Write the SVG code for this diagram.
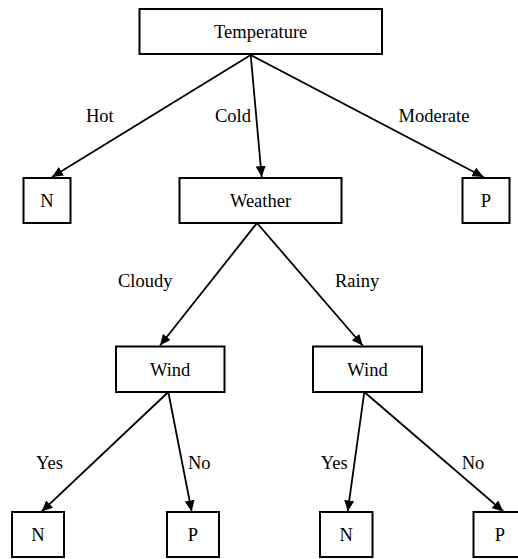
<svg xmlns="http://www.w3.org/2000/svg" width="518" height="559" viewBox="0 0 518 559">
<style>
.box{fill:#fff;stroke:#000;stroke-width:2}
text{font-family:'Liberation Serif','Times New Roman',Times,serif;font-size:18.5px;fill:#000}
.c{text-anchor:middle}
.edge{stroke:#000;stroke-width:1.8;fill:none;marker-end:url(#arr)}
</style>
<defs>
<marker id="arr" markerUnits="userSpaceOnUse" markerWidth="12" markerHeight="10" viewBox="0 0 12 10" refX="11" refY="5" orient="auto">
<path d="M0,0 L11,5 L0,10 Z" fill="#000"/>
</marker>
</defs>
<rect width="518" height="559" fill="#fff"/>
<g id="connectors">
<line class="edge" x1="250.7" y1="55" x2="52" y2="177"/>
<line class="edge" x1="250.7" y1="55" x2="261.7" y2="177"/>
<line class="edge" x1="250.7" y1="55" x2="483.5" y2="177"/>
<line class="edge" x1="257" y1="223" x2="160" y2="345.5"/>
<line class="edge" x1="257" y1="223" x2="362.7" y2="345.5"/>
<line class="edge" x1="168.3" y1="392" x2="41.7" y2="511.5"/>
<line class="edge" x1="168.3" y1="392" x2="191.7" y2="511.5"/>
<line class="edge" x1="364.3" y1="392" x2="347.7" y2="511.5"/>
<line class="edge" x1="364.3" y1="392" x2="503.3" y2="511.5"/>
</g>
<g id="edge-labels" font-family="Liberation Serif, serif">
<text x="86" y="121.7">Hot</text>
<text x="215" y="121.7">Cold</text>
<text x="398.5" y="121.7">Moderate</text>
<text x="118" y="287.3">Cloudy</text>
<text x="335" y="287.3">Rainy</text>
<text x="36" y="469">Yes</text>
<text x="188" y="469">No</text>
<text x="320.7" y="469">Yes</text>
<text x="461.7" y="469">No</text>
</g>
<g id="temperature">
<rect class="box" x="139.5" y="9" width="242.5" height="45"/>
<text class="c" x="260.7" y="37.7">Temperature</text>
</g>
<g id="hot-n">
<rect class="box" x="23.5" y="178" width="47" height="45"/>
<text class="c" x="47" y="206.8">N</text>
</g>
<g id="weather">
<rect class="box" x="179.5" y="178" width="162" height="45"/>
<text class="c" x="260.5" y="206.8">Weather</text>
</g>
<g id="moderate-p">
<rect class="box" x="462.5" y="178" width="47" height="45"/>
<text class="c" x="486" y="206.8">P</text>
</g>
<g id="wind-left">
<rect class="box" x="116" y="346.5" width="108.5" height="45.5"/>
<text class="c" x="170.2" y="375.7">Wind</text>
</g>
<g id="wind-right">
<rect class="box" x="313" y="346.5" width="109" height="45.5"/>
<text class="c" x="367.5" y="375.7">Wind</text>
</g>
<g id="leaf-n1">
<rect class="box" x="12" y="512" width="52" height="45"/>
<text class="c" x="38" y="540.8">N</text>
</g>
<g id="leaf-p1">
<rect class="box" x="167" y="512" width="52" height="45"/>
<text class="c" x="193" y="540.8">P</text>
</g>
<g id="leaf-n2">
<rect class="box" x="320" y="512" width="52.5" height="45"/>
<text class="c" x="346.2" y="540.8">N</text>
</g>
<g id="leaf-p2">
<rect class="box" x="473.5" y="512" width="52" height="45"/>
<text class="c" x="500" y="540.8">P</text>
</g>
</svg>
